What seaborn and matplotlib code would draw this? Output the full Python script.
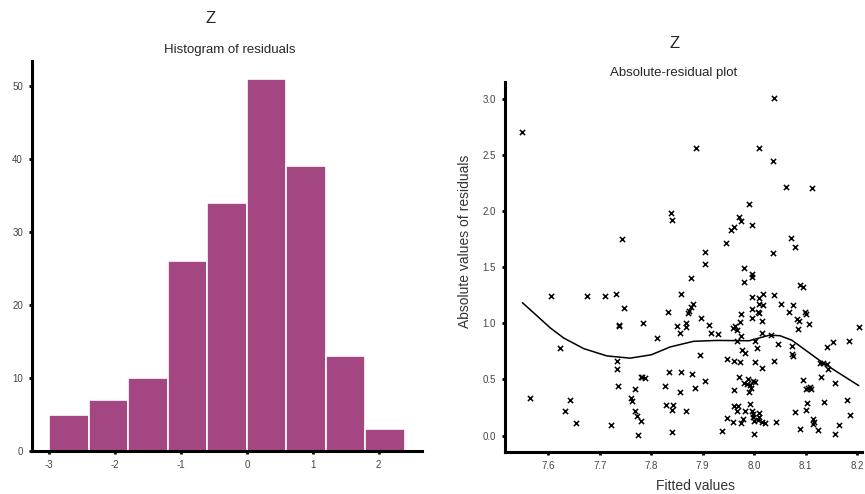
import numpy as np
import pandas as pd
import seaborn as sns
import matplotlib.pyplot as plt

# histogram of residuals: bin edges and counts
bin_edges = [-3.0, -2.4, -1.8, -1.2, -0.6, 0.0, 0.6, 1.2, 1.8, 2.4]
bin_counts = [5, 7, 10, 26, 34, 51, 39, 13, 3]

# absolute-residual plot: fitted values and |residuals|
fitted = [
    7.549, 7.744, 7.606, 7.676, 7.710, 7.731, 7.748, 7.737, 7.738, 7.785,
    7.622, 7.733, 7.733, 7.781, 7.783, 7.788, 7.736, 7.769, 7.564, 7.642,
    7.761, 7.763, 7.633, 7.768, 7.772, 7.781, 7.654, 7.722, 7.775,
    7.886, 7.839, 7.841, 7.904, 7.904, 7.878, 7.858, 7.881, 7.877, 7.874,
    7.872, 7.832, 7.850, 7.867, 7.867, 7.855, 7.897, 7.913, 7.917, 7.930,
    7.811, 7.895, 7.834, 7.858, 7.880, 7.904, 7.827, 7.885, 7.855, 7.828,
    7.843, 7.840, 7.867, 7.841,
    8.039, 8.010, 8.037, 7.989, 7.971, 7.974, 7.995, 7.960, 7.955, 7.946,
    8.036, 7.981, 7.996, 7.996, 7.981,
    7.996, 8.010, 8.017, 8.039, 8.010, 8.017, 7.975, 7.996, 8.008, 8.010,
    7.996, 8.016, 7.973, 7.958, 7.963, 7.967, 7.975, 8.016, 8.033, 7.967,
    8.001, 8.046, 7.976, 7.982, 8.005,
    7.947, 7.960, 7.973, 8.002, 8.038, 8.016, 7.971,
    7.988, 7.981, 7.986, 7.991, 7.997, 8.001, 7.994, 7.989,
    7.960, 7.960, 7.968, 7.992, 7.966, 7.983, 7.996, 7.998, 8.009, 7.947,
    7.958, 7.979, 7.975, 7.997, 8.000, 8.007, 8.010, 8.015, 8.021, 8.043,
    7.937, 8.000,
    8.061, 8.112, 8.072, 8.080, 8.089, 8.095,
    8.052, 8.076, 8.067, 8.098, 8.100, 8.084, 8.086, 8.107, 8.085, 8.203,
    8.153, 8.184,
    8.073, 8.141, 8.073, 8.075, 8.128, 8.134, 8.141, 8.144, 8.095, 8.130,
    8.156, 8.101, 8.105, 8.109, 8.110, 8.180, 8.103, 8.101, 8.135, 8.080,
    8.185, 8.114, 8.116, 8.114, 8.089, 8.123, 8.165, 8.157,
]
abs_resid = [
    2.702, 1.753, 1.244, 1.244, 1.244, 1.262, 1.139, 0.988, 0.976, 1.000,
    0.782, 0.661, 0.592, 0.523, 0.518, 0.512, 0.446, 0.413, 0.336, 0.315,
    0.336, 0.306, 0.217, 0.217, 0.179, 0.130, 0.110, 0.098, 0.005,
    2.559, 1.982, 1.922, 1.639, 1.529, 1.402, 1.259, 1.172, 1.143, 1.113,
    1.095, 1.098, 0.976, 1.000, 0.964, 0.911, 1.047, 0.982, 0.916, 0.904,
    0.866, 0.717, 0.568, 0.568, 0.547, 0.485, 0.446, 0.425, 0.389, 0.277,
    0.277, 0.232, 0.220, 0.029,
    3.009, 2.565, 2.443, 2.065, 1.949, 1.911, 1.875, 1.860, 1.836, 1.717,
    1.625, 1.494, 1.440, 1.411, 1.369,
    1.238, 1.223, 1.262, 1.253, 1.172, 1.163, 1.083, 1.128, 1.104, 1.089,
    1.045, 1.023, 1.014, 0.961, 0.976, 0.940, 0.887, 0.911, 0.896, 0.845,
    0.845, 0.813, 0.762, 0.732, 0.777,
    0.679, 0.663, 0.657, 0.657, 0.663, 0.598, 0.518,
    0.500, 0.470, 0.458, 0.449, 0.488, 0.479, 0.420, 0.389,
    0.404, 0.268, 0.268, 0.286, 0.217, 0.217, 0.220, 0.196, 0.202, 0.161,
    0.122, 0.152, 0.116, 0.166, 0.128, 0.143, 0.166, 0.122, 0.113, 0.122,
    0.041, 0.012,
    2.214, 2.202, 1.759, 1.678, 1.345, 1.321,
    1.172, 1.163, 1.104, 1.104, 1.080, 1.038, 1.023, 0.996, 0.949, 0.964,
    0.836, 0.839,
    0.797, 0.791, 0.726, 0.711, 0.648, 0.643, 0.637, 0.589, 0.494, 0.523,
    0.470, 0.411, 0.420, 0.434, 0.411, 0.321, 0.291, 0.232, 0.297, 0.211,
    0.181, 0.146, 0.122, 0.107, 0.062, 0.047, 0.092, 0.018,
]

# smoother drawn through the scatter
smooth_x = [7.550, 7.580, 7.604, 7.630, 7.669, 7.714, 7.759, 7.800, 7.837,
            7.882, 7.928, 7.990, 8.030, 8.050, 8.073, 8.100, 8.128, 8.160, 8.203]
smooth_y = [1.184, 1.060, 0.960, 0.870, 0.775, 0.710, 0.690, 0.720, 0.790,
            0.840, 0.848, 0.845, 0.895, 0.890, 0.850, 0.760, 0.666, 0.570, 0.445]

sns.set_style("ticks")
plt.rcParams['font.family'] = ['Liberation Sans', 'DejaVu Sans']
plt.rcParams['axes.unicode_minus'] = False

fig = plt.figure(figsize=(8.65, 4.94), dpi=100)
ax1 = fig.add_axes([0.037, 0.087, 0.451, 0.789])
ax2 = fig.add_axes([0.584, 0.085, 0.413, 0.749])

# left: histogram
centers = [(a + b) / 2 for a, b in zip(bin_edges[:-1], bin_edges[1:])]
hist_df = pd.DataFrame({"resid": centers, "count": bin_counts})
sns.histplot(data=hist_df, x="resid", weights="count", bins=bin_edges,
             color="#a34682", alpha=1, edgecolor="white", linewidth=1.2, ax=ax1)
ax1.set_xlim(-3.26, 2.66)
ax1.set_ylim(0, 53.4)
ax1.set_xticks([-3, -2, -1, 0, 1, 2])
ax1.set_yticks([0, 10, 20, 30, 40, 50])
ax1.set_xlabel("")
ax1.set_ylabel("")

# right: absolute residuals vs fitted
sc_df = pd.DataFrame({"fitted": fitted, "absres": abs_resid})
sns.scatterplot(data=sc_df, x="fitted", y="absres", marker="x", color="black",
                s=14, linewidth=1.1, ax=ax2)
sns.lineplot(x=smooth_x, y=smooth_y, sort=False, color="black", linewidth=1.1,
             ax=ax2)
ax2.set_xlim(7.5165, 8.21)
ax2.set_ylim(-0.146, 3.15)
ax2.set_xticks([7.6, 7.7, 7.8, 7.9, 8.0, 8.1, 8.2])
ax2.set_xticklabels(["7.6", "7.7", "7.8", "7.9", "8.0", "8.1", "8.2"])
ax2.set_yticks([0, 0.5, 1.0, 1.5, 2.0, 2.5, 3.0])
ax2.set_yticklabels(["0.0", "0.5", "1.0", "1.5", "2.0", "2.5", "3.0"])
ax2.set_xlabel("")
ax2.set_ylabel("")

for ax in (ax1, ax2):
    sns.despine(ax=ax)
    for side in ("left", "bottom"):
        ax.spines[side].set_linewidth(2.2)
        ax.spines[side].set_color("black")
    ax.tick_params(length=2.5, width=2, color="black", labelsize=7,
                   labelcolor="#444444", pad=4)

fig.text(0.243, 0.962, "Z", ha="center", va="center", fontsize=12)
fig.text(0.266, 0.899, "Histogram of residuals", ha="center", va="center",
         fontsize=9.5)
fig.text(0.780, 0.912, "Z", ha="center", va="center", fontsize=12)
fig.text(0.779, 0.852, "Absolute-residual plot", ha="center", va="center",
         fontsize=9.5)
fig.text(0.804, 0.016, "Fitted values", ha="center", va="center",
         fontsize=10, color="#333333")
fig.text(0.538, 0.512, "Absolute values of residuals", ha="center",
         va="center", rotation=90, fontsize=10, color="#333333")

fig.savefig("out.png", dpi=100)
